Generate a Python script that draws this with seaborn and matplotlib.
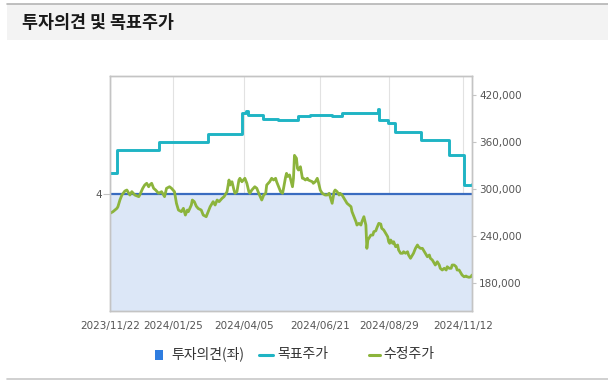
import pandas as pd
import matplotlib
matplotlib.use("Agg")
import matplotlib.pyplot as plt
import matplotlib.dates as mdates
from matplotlib.lines import Line2D
from matplotlib.patches import Rectangle
from matplotlib.ticker import FuncFormatter
import seaborn as sns

# data (days since 2023-11-22)
start_date = "2023-11-22"
end_day = 365

opinion_value = 4

target_day = [0, 7, 49, 99, 133, 137, 139, 154, 169, 190, 202, 224, 234, 270, 271,
              280, 287, 314, 342, 357, 365]
target_price = [320000, 350000, 360000, 370000, 397000, 400000, 395000, 390000, 388000,
                393000, 395000, 393000, 397000, 402000, 388000, 384000, 373000, 363000,
                343000, 305000, 307000]

price_day = [0, 3, 7, 8, 10, 12, 15, 17, 20, 22, 25, 29, 30, 33, 35, 37, 39, 40, 42, 44,
             46, 49, 52, 55, 57, 60, 62, 65, 67, 69, 72, 74, 76, 78, 79, 82, 83, 85, 87, 89,
             92, 94, 97, 99, 101, 104, 106, 108, 110, 113, 115, 118, 120, 121, 123, 125, 126,
             128, 130, 131, 133, 136, 138, 140, 141, 143, 146, 148, 150, 153, 155, 157, 158,
             161, 163, 165, 167, 168, 170, 172, 174, 175, 177, 178, 179, 181, 184, 185, 186,
             188, 189, 190, 192, 194, 195, 197, 199, 200, 204, 205, 207, 209, 210, 212, 214,
             217, 219, 221, 222, 224, 226, 227, 229, 231, 232, 234, 236, 237, 239, 241, 243,
             244, 246, 248, 249, 251, 253, 254, 256, 258, 259, 260, 261, 263, 265, 266, 268,
             269, 271, 273, 274, 276, 278, 280, 281, 282, 283, 285, 286, 288, 290, 291, 293,
             295, 296, 298, 300, 301, 303, 305, 306, 308, 310, 311, 313, 315, 317, 318, 320,
             322, 323, 325, 327, 328, 330, 332, 333, 335, 337, 339, 340, 342, 344, 345, 347,
             349, 350, 352, 354, 355, 357, 359, 360, 362, 364, 365]
price_value = [268900, 271000, 275300, 277400, 285900, 292300, 297400, 298700, 292300, 296600,
               292300, 290200, 292300, 300900, 305100, 307300, 302900, 305100, 307300, 300900,
               298700, 294500, 296600, 290200, 300900, 302900, 300900, 296600, 281700, 273100,
               271000, 275300, 266700, 273100, 271000, 279500, 285900, 283800, 278000, 275000,
               273100, 266700, 264600, 271000, 277400, 283800, 279500, 285900, 283800, 288100,
               290200, 296600, 311500, 305100, 309300, 298700, 294500, 296600, 311500, 313700,
               309300, 313700, 307300, 296600, 294500, 298700, 302900, 300900, 294500, 285900,
               292300, 294500, 305100, 309300, 313700, 311500, 313700, 309300, 302900, 296600,
               294500, 300900, 315000, 320000, 316000, 318000, 302900, 313700, 343000, 339300,
               326500, 324300, 328500, 313700, 313700, 311500, 313700, 311500, 309300, 307300,
               309300, 313700, 309300, 298700, 294500, 292300, 292300, 294500, 290200, 281700,
               296600, 298700, 296600, 292300, 294500, 292300, 288100, 285900, 281700, 279500,
               277400, 271000, 264600, 258200, 253900, 256100, 253900, 258200, 264600, 253900,
               224100, 234800, 236900, 241100, 241100, 245400, 246500, 250000, 256100, 255200,
               249700, 247600, 243300, 239000, 232600, 230500, 234800, 230500, 232600, 226200,
               228400, 222000, 217800, 217800, 219800, 217800, 219800, 215600, 211400, 215600,
               217800, 224100, 228400, 226200, 224100, 224100, 219800, 217800, 213400, 215600,
               211400, 209200, 205000, 202800, 207000, 202800, 198600, 196400, 198600, 196400,
               200600, 198600, 198600, 202800, 202800, 200600, 196400, 196400, 192200, 190000,
               187800, 188700, 187800, 187100, 187800, 190000]

x_ticks = ["2023-11-22", "2024-01-25", "2024-04-05", "2024-06-21", "2024-08-29", "2024-11-12"]
price_ticks = [180000, 240000, 300000, 360000, 420000]

title = "투자의견 및 목표주가"
legend_labels = ["투자의견(좌)", "목표주가", "수정주가"]

c_opinion = "#3a6cc0"
c_opinion_fill = "#dce7f7"
c_legend_sq = "#2f7de0"
c_target = "#1fb4c4"
c_price = "#8cb43c"

start = pd.Timestamp(start_date)
target = pd.DataFrame({"date": start + pd.to_timedelta(target_day, unit="D"), "price": target_price})
price = pd.DataFrame({"date": start + pd.to_timedelta(price_day, unit="D"), "price": price_value})
opinion = pd.DataFrame({"date": [start, start + pd.Timedelta(days=end_day)],
                        "value": [opinion_value, opinion_value]})

sns.set_style("white")
plt.rcParams["font.family"] = ["DejaVu Sans", "Noto Sans CJK KR"]
kr = ["Noto Sans CJK KR", "DejaVu Sans"]

W, H = 608, 389
fig = plt.figure(figsize=(W / 100, H / 100), dpi=100)
fig.patch.set_facecolor("white")


def fx(px):
    return px / W


def fy(py):
    return 1 - py / H


# header band and frame lines
fig.patches.append(Rectangle((fx(7), fy(40)), 1, 36 / H, transform=fig.transFigure,
                             facecolor="#f3f3f3", edgecolor="none", zorder=0))
fig.lines.append(Line2D([fx(7), 1], [fy(3.5), fy(3.5)], transform=fig.transFigure,
                        color="#b4b4b4", lw=1.2))
fig.lines.append(Line2D([fx(7), 1], [fy(378.5), fy(378.5)], transform=fig.transFigure,
                        color="#c8c8c8", lw=1.2))
fig.text(fx(22), fy(23), title, fontsize=12.5, fontweight="bold", color="#1a1a1a",
         va="center", ha="left", family=kr)

ax = fig.add_axes([fx(110), fy(311), 362 / W, 235 / H])
ax2 = ax.twinx()

# opinion (left axis)
ax.fill_between(opinion["date"], opinion["value"], 2, color=c_opinion_fill, lw=0)
sns.lineplot(data=opinion, x="date", y="value", ax=ax, color=c_opinion, lw=1.6)
ax.set_ylim(2, 6)
ax.set_yticks([opinion_value])
ax.set_yticklabels([str(opinion_value)])

# prices (right axis)
sns.lineplot(data=target, x="date", y="price", ax=ax2, color=c_target, lw=2.1,
             drawstyle="steps-post")
sns.lineplot(data=price, x="date", y="price", ax=ax2, color=c_price, lw=2)
ax2.set_ylim(144000, 444500)
ax2.set_yticks(price_ticks)
ax2.yaxis.set_major_formatter(FuncFormatter(lambda v, p: f"{int(v):,}"))

ax.set_xlim(start, start + pd.Timedelta(days=end_day))
ax.set_xticks(pd.to_datetime(x_ticks))
ax.xaxis.set_major_formatter(mdates.DateFormatter("%Y/%m/%d"))
ax.grid(axis="x", color="#e2e2e2", lw=0.8)
ax.set_axisbelow(True)

for a in (ax, ax2):
    a.set_xlabel("")
    a.set_ylabel("")
    for s in a.spines.values():
        s.set_color("#c4c4c4")
        s.set_linewidth(1)
ax.tick_params(axis="x", colors="#c4c4c4", labelcolor="#555555", labelsize=7.5, length=5, pad=2)
ax.tick_params(axis="y", colors="#c4c4c4", labelcolor="#555555", labelsize=7.5, length=5, pad=1)
ax2.tick_params(axis="y", colors="#c4c4c4", labelcolor="#555555", labelsize=7.5, length=3, pad=2)

# legend, laid out like the reference
fig.patches.append(Rectangle((fx(155), fy(360)), 7.7 / W, 10 / H, transform=fig.transFigure,
                             facecolor=c_legend_sq, edgecolor="none"))
fig.lines.append(Line2D([fx(259), fx(273)], [fy(355), fy(355)], transform=fig.transFigure,
                        color=c_target, lw=2.2))
fig.lines.append(Line2D([fx(369), fx(380)], [fy(355), fy(355)], transform=fig.transFigure,
                        color=c_price, lw=2.2))
for lx, lab in zip([171, 277, 383], legend_labels):
    fig.text(fx(lx), fy(354), lab, fontsize=10, color="#333333", va="center", ha="left", family=kr)

fig.savefig("out.png", dpi=100)
